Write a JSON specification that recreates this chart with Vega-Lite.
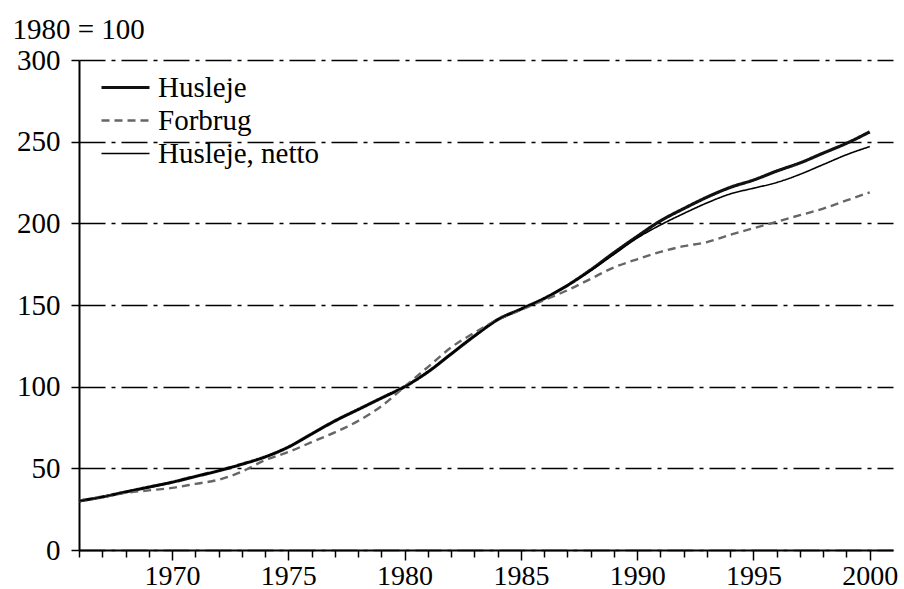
{
  "$schema": "https://vega.github.io/schema/vega-lite/v6.json",
  "width": 814,
  "height": 490,
  "autosize": "none",
  "padding": {"left": 79, "top": 60, "right": 11, "bottom": 39},
  "background": "white",
  "config": {
    "font": "'Liberation Serif', 'Times New Roman', serif",
    "view": {"stroke": null},
    "axis": {"labelFont": "'Liberation Serif', 'Times New Roman', serif", "titleFont": "'Liberation Serif', 'Times New Roman', serif"},
    "legend": {"labelFont": "'Liberation Serif', 'Times New Roman', serif", "titleFont": "'Liberation Serif', 'Times New Roman', serif"}
  },
  "data": {
    "values": [
      {"year": 1966, "series": "Husleje", "value": 30},
      {"year": 1967, "series": "Husleje", "value": 32.5},
      {"year": 1968, "series": "Husleje", "value": 35.5},
      {"year": 1969, "series": "Husleje", "value": 38.5},
      {"year": 1970, "series": "Husleje", "value": 41.5},
      {"year": 1971, "series": "Husleje", "value": 45},
      {"year": 1972, "series": "Husleje", "value": 48.5},
      {"year": 1973, "series": "Husleje", "value": 52.5},
      {"year": 1974, "series": "Husleje", "value": 57},
      {"year": 1975, "series": "Husleje", "value": 63},
      {"year": 1976, "series": "Husleje", "value": 71},
      {"year": 1977, "series": "Husleje", "value": 79},
      {"year": 1978, "series": "Husleje", "value": 86},
      {"year": 1979, "series": "Husleje", "value": 93},
      {"year": 1980, "series": "Husleje", "value": 100},
      {"year": 1981, "series": "Husleje", "value": 109},
      {"year": 1982, "series": "Husleje", "value": 120},
      {"year": 1983, "series": "Husleje", "value": 131},
      {"year": 1984, "series": "Husleje", "value": 141},
      {"year": 1985, "series": "Husleje", "value": 147.5},
      {"year": 1986, "series": "Husleje", "value": 154},
      {"year": 1987, "series": "Husleje", "value": 162},
      {"year": 1988, "series": "Husleje", "value": 171.5},
      {"year": 1989, "series": "Husleje", "value": 182},
      {"year": 1990, "series": "Husleje", "value": 192},
      {"year": 1991, "series": "Husleje", "value": 201.5},
      {"year": 1992, "series": "Husleje", "value": 209},
      {"year": 1993, "series": "Husleje", "value": 216},
      {"year": 1994, "series": "Husleje", "value": 222},
      {"year": 1995, "series": "Husleje", "value": 226.5},
      {"year": 1996, "series": "Husleje", "value": 232},
      {"year": 1997, "series": "Husleje", "value": 237},
      {"year": 1998, "series": "Husleje", "value": 243},
      {"year": 1999, "series": "Husleje", "value": 249},
      {"year": 2000, "series": "Husleje", "value": 256},
      {"year": 1966, "series": "Forbrug", "value": 30},
      {"year": 1967, "series": "Forbrug", "value": 32.5},
      {"year": 1968, "series": "Forbrug", "value": 35},
      {"year": 1969, "series": "Forbrug", "value": 36.5},
      {"year": 1970, "series": "Forbrug", "value": 38},
      {"year": 1971, "series": "Forbrug", "value": 40.5},
      {"year": 1972, "series": "Forbrug", "value": 43},
      {"year": 1973, "series": "Forbrug", "value": 48},
      {"year": 1974, "series": "Forbrug", "value": 55},
      {"year": 1975, "series": "Forbrug", "value": 60},
      {"year": 1976, "series": "Forbrug", "value": 66},
      {"year": 1977, "series": "Forbrug", "value": 72},
      {"year": 1978, "series": "Forbrug", "value": 79},
      {"year": 1979, "series": "Forbrug", "value": 88},
      {"year": 1980, "series": "Forbrug", "value": 100},
      {"year": 1981, "series": "Forbrug", "value": 112},
      {"year": 1982, "series": "Forbrug", "value": 124},
      {"year": 1983, "series": "Forbrug", "value": 133},
      {"year": 1984, "series": "Forbrug", "value": 141},
      {"year": 1985, "series": "Forbrug", "value": 147},
      {"year": 1986, "series": "Forbrug", "value": 153},
      {"year": 1987, "series": "Forbrug", "value": 159},
      {"year": 1988, "series": "Forbrug", "value": 166},
      {"year": 1989, "series": "Forbrug", "value": 173},
      {"year": 1990, "series": "Forbrug", "value": 178},
      {"year": 1991, "series": "Forbrug", "value": 182.5},
      {"year": 1992, "series": "Forbrug", "value": 186},
      {"year": 1993, "series": "Forbrug", "value": 188.5},
      {"year": 1994, "series": "Forbrug", "value": 193},
      {"year": 1995, "series": "Forbrug", "value": 197},
      {"year": 1996, "series": "Forbrug", "value": 201},
      {"year": 1997, "series": "Forbrug", "value": 205},
      {"year": 1998, "series": "Forbrug", "value": 209},
      {"year": 1999, "series": "Forbrug", "value": 214},
      {"year": 2000, "series": "Forbrug", "value": 219},
      {"year": 1966, "series": "Husleje, netto", "value": 30},
      {"year": 1967, "series": "Husleje, netto", "value": 32.5},
      {"year": 1968, "series": "Husleje, netto", "value": 35.5},
      {"year": 1969, "series": "Husleje, netto", "value": 38.5},
      {"year": 1970, "series": "Husleje, netto", "value": 41.5},
      {"year": 1971, "series": "Husleje, netto", "value": 45},
      {"year": 1972, "series": "Husleje, netto", "value": 48.5},
      {"year": 1973, "series": "Husleje, netto", "value": 52.5},
      {"year": 1974, "series": "Husleje, netto", "value": 57},
      {"year": 1975, "series": "Husleje, netto", "value": 63},
      {"year": 1976, "series": "Husleje, netto", "value": 71},
      {"year": 1977, "series": "Husleje, netto", "value": 79},
      {"year": 1978, "series": "Husleje, netto", "value": 86},
      {"year": 1979, "series": "Husleje, netto", "value": 93},
      {"year": 1980, "series": "Husleje, netto", "value": 100},
      {"year": 1981, "series": "Husleje, netto", "value": 109},
      {"year": 1982, "series": "Husleje, netto", "value": 120},
      {"year": 1983, "series": "Husleje, netto", "value": 131},
      {"year": 1984, "series": "Husleje, netto", "value": 141},
      {"year": 1985, "series": "Husleje, netto", "value": 147.5},
      {"year": 1986, "series": "Husleje, netto", "value": 154},
      {"year": 1987, "series": "Husleje, netto", "value": 162},
      {"year": 1988, "series": "Husleje, netto", "value": 171},
      {"year": 1989, "series": "Husleje, netto", "value": 181},
      {"year": 1990, "series": "Husleje, netto", "value": 191},
      {"year": 1991, "series": "Husleje, netto", "value": 199},
      {"year": 1992, "series": "Husleje, netto", "value": 206},
      {"year": 1993, "series": "Husleje, netto", "value": 212.5},
      {"year": 1994, "series": "Husleje, netto", "value": 218},
      {"year": 1995, "series": "Husleje, netto", "value": 221.5},
      {"year": 1996, "series": "Husleje, netto", "value": 225},
      {"year": 1997, "series": "Husleje, netto", "value": 230},
      {"year": 1998, "series": "Husleje, netto", "value": 236},
      {"year": 1999, "series": "Husleje, netto", "value": 242},
      {"year": 2000, "series": "Husleje, netto", "value": 247}
    ]
  },
  "mark": {"type": "line", "interpolate": "monotone"},
  "encoding": {
    "x": {
      "field": "year",
      "type": "quantitative",
      "scale": {"domain": [1966, 2001], "nice": false, "zero": false},
      "axis": {
        "title": null,
        "grid": false,
        "values": [1966,1967,1968,1969,1970,1971,1972,1973,1974,1975,1976,1977,1978,1979,1980,1981,1982,1983,1984,1985,1986,1987,1988,1989,1990,1991,1992,1993,1994,1995,1996,1997,1998,1999,2000],
        "labelExpr": "datum.value % 5 === 0 ? datum.value : ''",
        "format": "d",
        "tickSize": {"condition": {"test": "datum.value % 5 === 0", "value": 10}, "value": 7},
        "tickColor": "black",
        "tickWidth": 1.5,
        "domainColor": "black",
        "domainWidth": 2,
        "labelFontSize": 28,
        "labelColor": "black",
        "labelPadding": 2,
        "labelFlush": false,
        "labelOverlap": false
      }
    },
    "y": {
      "field": "value",
      "type": "quantitative",
      "scale": {"domain": [0, 300], "nice": false},
      "axis": {
        "values": [0, 50, 100, 150, 200, 250, 300],
        "title": "1980 = 100",
        "titleAngle": 0,
        "titleX": -67,
        "titleY": -22,
        "titleAlign": "left",
        "titleBaseline": "alphabetic",
        "titleFontSize": 29,
        "titleFontWeight": "normal",
        "titleColor": "black",
        "grid": true,
        "gridColor": "black",
        "gridWidth": 1.5,
        "gridDash": [26, 6, 4, 6],
        "tickSize": 8,
        "tickColor": "black",
        "tickWidth": 1.5,
        "domainColor": "black",
        "domainWidth": 2,
        "labelFontSize": 29,
        "labelColor": "black",
        "labelPadding": 11,
        "labelFlush": false
      }
    },
    "color": {
      "field": "series",
      "type": "nominal",
      "scale": {"domain": ["Husleje", "Forbrug", "Husleje, netto"], "range": ["#111111", "#666666", "#000000"]},
      "legend": {
        "title": null,
        "orient": "none",
        "legendX": 32,
        "legendY": 13,
        "padding": 0,
        "symbolType": "M-2.4,0H2.4",
        "symbolSize": 400,
        "labelFontSize": 29,
        "labelColor": "black",
        "labelOffset": 18,
        "labelLimit": 400,
        "rowPadding": 3
      }
    },
    "strokeDash": {
      "field": "series",
      "type": "nominal",
      "scale": {"domain": ["Husleje", "Forbrug", "Husleje, netto"], "range": [[1, 0], [8, 5], [1, 0]]},
      "legend": null
    },
    "strokeWidth": {
      "field": "series",
      "type": "ordinal",
      "scale": {"domain": ["Husleje", "Forbrug", "Husleje, netto"], "range": [3.2, 1.6, 1.6]},
      "legend": null
    }
  }
}
